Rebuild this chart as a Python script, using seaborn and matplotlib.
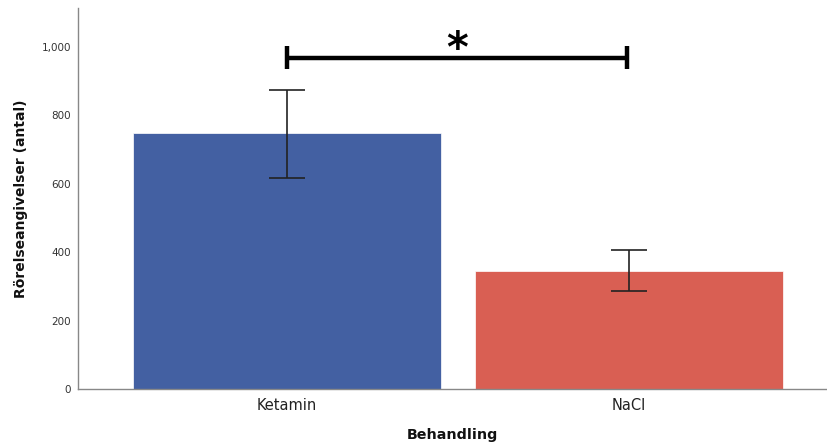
import seaborn as sns
import pandas as pd
import matplotlib.pyplot as plt
import numpy as np

behandling = ["Ketamin", "NaCl"]
medel = [747, 346]
fel_nedre = [617, 287]
fel_ovre = [874, 407]
farger = ["#4360A2", "#D95F53"]
yticks = [0, 200, 400, 600, 800, 1000]

data = pd.DataFrame({"Behandling": behandling, "Antal": medel})

sns.set_theme(style="white")
plt.rcParams['font.family'] = ['DejaVu Sans']

fig = plt.figure(figsize=(8.27, 4.46), dpi=100)
ax = fig.add_axes([0.0943, 0.127, 0.9057, 0.855])

sns.barplot(data=data, x="Behandling", y="Antal", hue="Behandling", palette=farger,
            width=0.9, errorbar=None, legend=False, ax=ax, saturation=1,
            edgecolor="white", linewidth=0.5)

# felstaplar
lo = np.array(medel) - np.array(fel_nedre)
hi = np.array(fel_ovre) - np.array(medel)
ax.errorbar([0, 1], medel, yerr=[lo, hi], fmt="none", ecolor="#222222",
            elinewidth=1.2, capsize=13, capthick=1.2)

# signifikans
ax.plot([0, 0.994], [968, 968], color="black", lw=3.2, solid_capstyle="butt")
ax.plot([0, 0], [934, 1002], color="black", lw=3.2, solid_capstyle="butt")
ax.plot([0.994, 0.994], [934, 1002], color="black", lw=3.2, solid_capstyle="butt")
ax.text(0.497, 990, "*", ha="center", va="center", fontsize=30, fontweight="bold",
        color="black")

ax.set_xlim(-0.611, 1.579)
ax.set_ylim(0, 1113)
ax.set_yticks(yticks)
ax.set_yticklabels([f"{v:,}" for v in yticks], fontsize=7.5, color="#333333")
ax.tick_params(axis="x", labelsize=10.5, colors="#222222", length=0, pad=6)
ax.tick_params(axis="y", length=0, pad=5)
for s in ["top", "right"]:
    ax.spines[s].set_visible(False)
for s in ["left", "bottom"]:
    ax.spines[s].set_color("#888888")
    ax.spines[s].set_linewidth(1)

ax.set_xlabel("Behandling", fontsize=10.3, fontweight="bold", labelpad=11, color="#111111")
ax.set_ylabel("Rörelseangivelser (antal)", fontsize=10, fontweight="bold", labelpad=10,
              color="#111111")

plt.savefig("out.png", dpi=100)
